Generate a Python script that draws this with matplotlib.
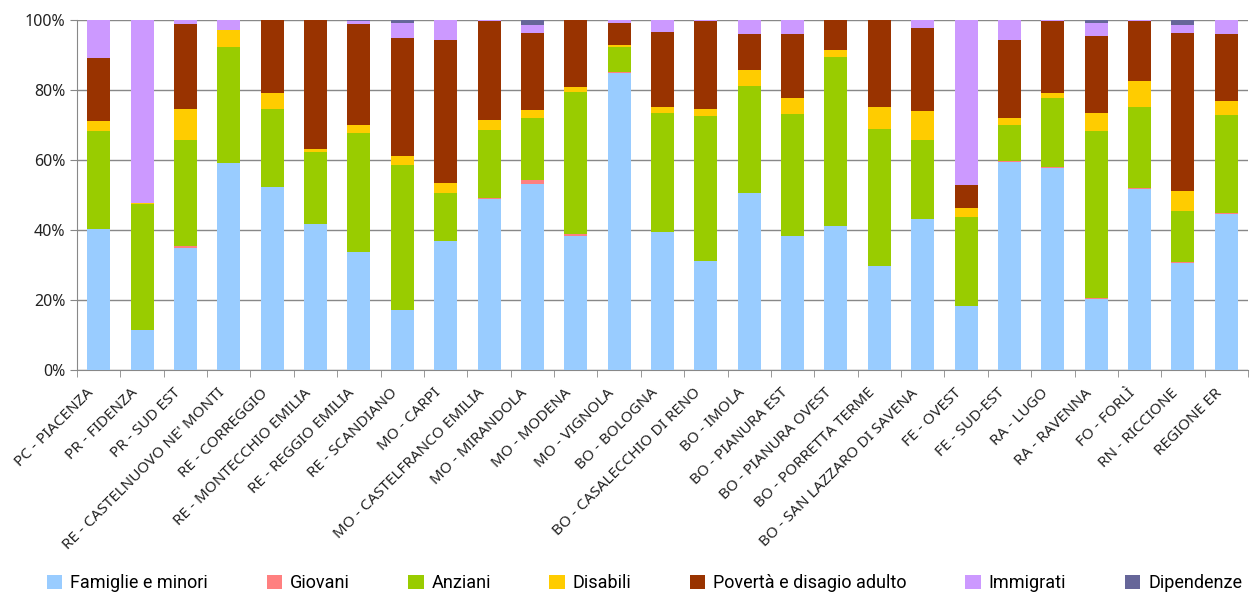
import numpy as np
import matplotlib
matplotlib.use('Agg')
import matplotlib.pyplot as plt
from matplotlib.ticker import FuncFormatter

categories = [
    'PC - PIACENZA', 'PR - FIDENZA', 'PR - SUD EST', "RE - CASTELNUOVO NE' MONTI",
    'RE - CORREGGIO', 'RE - MONTECCHIO EMILIA', 'RE - REGGIO EMILIA', 'RE - SCANDIANO',
    'MO - CARPI', 'MO - CASTELFRANCO EMILIA', 'MO - MIRANDOLA', 'MO - MODENA',
    'MO - VIGNOLA', 'BO - BOLOGNA', 'BO - CASALECCHIO DI RENO', 'BO - IMOLA',
    'BO - PIANURA EST', 'BO - PIANURA OVEST', 'BO - PORRETTA TERME',
    'BO - SAN LAZZARO DI SAVENA', 'FE - OVEST', 'FE - SUD-EST', 'RA - LUGO',
    'RA - RAVENNA', 'FO - FORLÌ', 'RN - RICCIONE', 'REGIONE ER',
]

famiglie = [40.2, 11.4, 34.8, 59.0, 52.2, 41.6, 33.6, 17.1, 36.8, 48.8, 53.0, 38.2, 84.7, 39.4,
            31.1, 50.5, 38.2, 41.1, 29.7, 43.1, 18.2, 59.3, 57.6, 20.2, 51.6, 30.5, 44.5]
giovani = [0, 0, 0.7, 0, 0, 0, 0, 0, 0, 0.4, 1.2, 0.6, 0.5, 0,
           0, 0, 0, 0, 0, 0, 0, 0.5, 0.3, 0.5, 0.4, 0.4, 0.3]
anziani = [28.0, 36.0, 30.1, 33.1, 22.2, 20.6, 34.0, 41.4, 13.7, 19.3, 17.7, 40.5, 6.9, 33.9,
           41.3, 30.5, 34.8, 48.2, 39.0, 22.5, 25.4, 10.1, 19.7, 47.5, 23.0, 14.4, 27.9]
disabili = [2.8, 0.2, 8.8, 4.9, 4.6, 0.8, 2.3, 2.5, 2.8, 2.9, 2.2, 1.4, 0.6, 1.7,
            2.0, 4.5, 4.6, 1.9, 6.3, 8.3, 2.6, 2.0, 1.4, 5.1, 7.4, 5.7, 4.0]
poverta = [18.0, 0, 24.3, 0, 21.0, 37.0, 28.8, 33.7, 40.8, 28.2, 22.0, 19.3, 6.2, 21.4,
           25.1, 10.3, 18.2, 8.8, 25.0, 23.6, 6.6, 22.2, 20.5, 21.9, 17.1, 45.1, 19.1]
immigrati = [11.0, 52.4, 1.3, 3.0, 0, 0, 0.8, 4.2, 5.9, 0.5, 2.3, 0, 1.1, 3.6,
             0.5, 4.2, 4.2, 0, 0, 2.5, 47.2, 5.9, 0.5, 3.7, 0.5, 2.3, 4.2]
dipendenze = [0, 0, 0, 0, 0, 0, 0.5, 1.1, 0, 0, 1.6, 0, 0, 0,
              0, 0, 0, 0, 0, 0, 0, 0, 0, 1.1, 0, 1.6, 0]

series = [
    ('Famiglie e minori', famiglie, '#99CCFF'),
    ('Giovani', giovani, '#FF8080'),
    ('Anziani', anziani, '#99CC00'),
    ('Disabili', disabili, '#FFCC00'),
    ('Povertà e disagio adulto', poverta, '#993300'),
    ('Immigrati', immigrati, '#CC99FF'),
    ('Dipendenze', dipendenze, '#666699'),
]

# 100% stacked: normalise each column to its total
totals = np.sum([np.array(v) for _, v, _ in series], axis=0)

fig = plt.figure(figsize=(12.5, 5.95), dpi=100)
ax = fig.add_axes([0.0616, 0.378, 0.9368, 0.589])

x = np.arange(len(categories))
bottom = np.zeros(len(categories))
for name, vals, col in series:
    v = np.array(vals) / totals
    ax.bar(x, v, 0.53, bottom=bottom, color=col, label=name, zorder=3)
    bottom += v

ax.set_xlim(-0.5, len(categories) - 0.5)
ax.set_ylim(0, 1)
ax.set_yticks(np.arange(0, 1.01, 0.2))
ax.yaxis.set_major_formatter(FuncFormatter(lambda v, p: f'{v * 100:.0f}%'))
ax.grid(axis='y', color='#888888', lw=1, zorder=0)

# labels sit slightly left of the bar centre, like the original
ax.set_xticks(x - 0.16)
ax.set_xticklabels(categories, rotation=45, ha='right', va='center', rotation_mode='anchor',
                   fontsize=11, family='Noto Sans', color='#222222')
ax.set_xticks(np.arange(-0.5, len(categories)), minor=True)
ax.tick_params(axis='x', which='major', length=0, pad=15)
ax.tick_params(axis='x', which='minor', length=5, color='#888888')
ax.tick_params(axis='y', length=5, color='#888888', labelsize=11.5, labelcolor='#222222')
for t in ax.get_yticklabels():
    t.set_family('Noto Sans')

for s in ['top', 'right']:
    ax.spines[s].set_visible(False)
for s in ['left', 'bottom']:
    ax.spines[s].set_color('#888888')

fig.legend(loc='center left', bbox_to_anchor=(47 / 1250, 0.0, (1242 - 47) / 1250, 0.04),
           mode='expand', ncol=7, frameon=False, borderpad=0, borderaxespad=0,
           handlelength=0.85, handleheight=0.85, handletextpad=0.45,
           prop={'family': ['Roboto', 'DejaVu Sans'], 'size': 13})

fig.savefig('out.png', dpi=100)
